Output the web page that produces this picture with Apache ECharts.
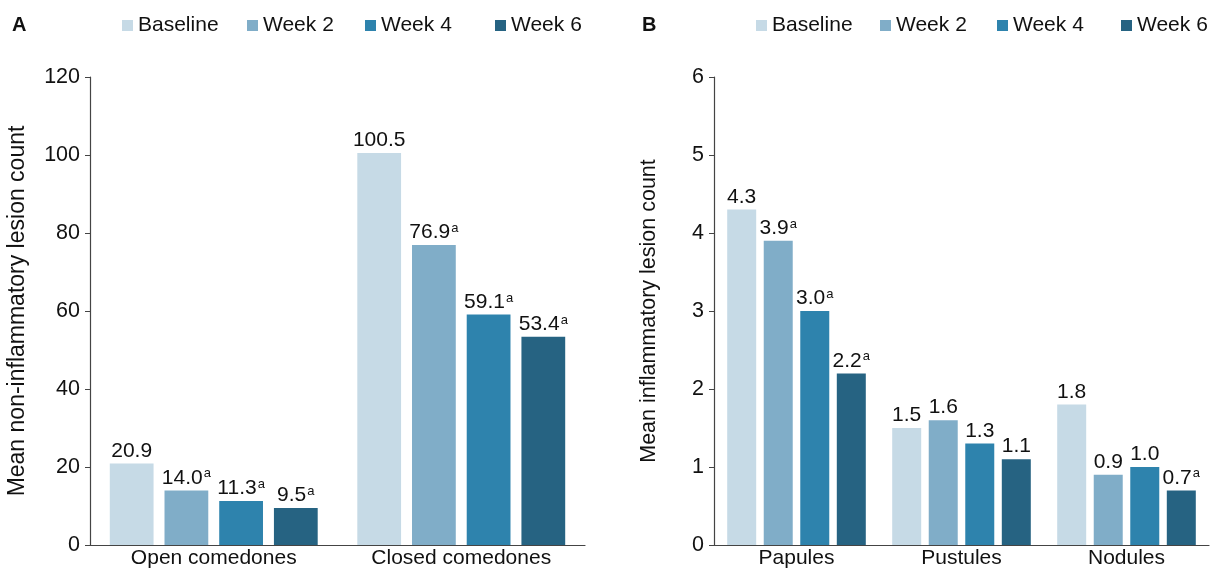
<!DOCTYPE html>
<html>
<head>
<meta charset="utf-8">
<script src="https://cdn.jsdelivr.net/npm/echarts@6/dist/echarts.min.js"></script>
<style>html,body{margin:0;padding:0;background:#fff}#c{width:1210px;height:569px}</style>
</head>
<body>
<div id="c"></div>
<script>
// ---- Data ----
const seriesNames = ['Baseline', 'Week 2', 'Week 4', 'Week 6'];
const colors = ['#c6dae6', '#80adc8', '#2e83ad', '#266382'];

// Panel A: non-inflammatory lesions
const catsA = ['Open comedones', 'Closed comedones'];
const baselineA = [20.9, 100.5];
const week2A = [14.0, 76.9];
const week4A = [11.3, 59.1];
const week6A = [9.5, 53.4];
const sigA = [[0, 0], [1, 1], [1, 1], [1, 1]];
const yTicksA = { min: 0, max: 120, interval: 20 };

// Panel B: inflammatory lesions
const catsB = ['Papules', 'Pustules', 'Nodules'];
const baselineB = [4.3, 1.5, 1.8];
const week2B = [3.9, 1.6, 0.9];
const week4B = [3.0, 1.3, 1.0];
const week6B = [2.2, 1.1, 0.7];
const sigB = [[0, 0, 0], [1, 0, 0], [1, 0, 0], [1, 0, 1]];
const yTicksB = { min: 0, max: 6, interval: 1 };

const FONT = "'Liberation Sans', Arial, sans-serif";

function mkSeries(data, sig, idx, axisIdx) {
  return {
    name: seriesNames[idx],
    type: 'bar',
    xAxisIndex: axisIdx, yAxisIndex: axisIdx,
    data: data,
    barGap: axisIdx === 0 ? '25%' : '26%',
    barCategoryGap: '16%',
    itemStyle: { color: colors[idx] },
    label: {
      show: true, position: 'top', distance: 2,
      fontFamily: FONT, fontSize: 21, color: '#111',
      formatter: p => {
        const v = p.value.toFixed(1);
        return sig[idx][p.dataIndex] ? '{v|' + v + '}{s|a}' : '{v|' + v + '}';
      },
      rich: {
        v: { fontFamily: FONT, fontSize: 21, color: '#111', lineHeight: 21 },
        s: { fontFamily: FONT, fontSize: 13, color: '#111', verticalAlign: 'top', lineHeight: 21, padding: [0, 0, 0, 1] }
      }
    }
  };
}

const dataA = [baselineA, week2A, week4A, week6A];
const dataB = [baselineB, week2B, week4B, week6B];
const series = [];
dataA.forEach((d, i) => series.push(mkSeries(d, sigA, i, 0)));
dataB.forEach((d, i) => series.push(mkSeries(d, sigB, i, 1)));

const legendPos = [
  [122, 247, 365, 495],
  [756, 880, 997, 1121]
];
const legends = [];
legendPos.forEach(row => row.forEach((x, i) => legends.push({
  data: [seriesNames[i]], left: x, top: 15, padding: 0, icon: 'rect',
  itemWidth: 11, itemHeight: 11, itemGap: 6, selectedMode: false,
  textStyle: { fontFamily: FONT, fontSize: 21, color: '#111' }
})));

function yAxis(t, name, gap, nameSize, idx) {
  return {
    type: 'value', gridIndex: idx, min: t.min, max: t.max, interval: t.interval,
    name: name, nameLocation: 'middle', nameGap: gap,
    nameTextStyle: { fontFamily: FONT, fontSize: nameSize, color: '#111' },
    axisLine: { show: true, lineStyle: { color: '#444', width: 1.2 } },
    axisTick: { show: true, length: 5, lineStyle: { color: '#444' } },
    axisLabel: { fontFamily: FONT, fontSize: 21.5, color: '#111', margin: 10 },
    splitLine: { show: false }
  };
}
function xAxis(cats, idx) {
  return {
    type: 'category', gridIndex: idx, data: cats,
    axisLine: { lineStyle: { color: '#444', width: 1.2 } },
    axisTick: { show: false },
    axisLabel: { fontFamily: FONT, fontSize: 21, color: '#111', margin: 3 }
  };
}

const chart = echarts.init(document.getElementById('c'), null, { renderer: 'canvas' });
chart.setOption({
  animation: false,
  backgroundColor: '#fff',
  legend: legends,
  graphic: [
    { type: 'text', left: 12, top: 15, style: { text: 'A', fontFamily: FONT, fontSize: 20, fontWeight: 'bold', fill: '#111' } },
    { type: 'text', left: 642, top: 15, style: { text: 'B', fontFamily: FONT, fontSize: 20, fontWeight: 'bold', fill: '#111' } }
  ],
  grid: [
    { left: 90, right: 625, top: 77, bottom: 24 },
    { left: 714, right: 1, top: 77, bottom: 23 }
  ],
  xAxis: [xAxis(catsA, 0), xAxis(catsB, 1)],
  yAxis: [
    yAxis(yTicksA, 'Mean non-inflammatory lesion count', 61, 23, 0),
    yAxis(yTicksB, 'Mean inflammatory lesion count', 54, 21.5, 1)
  ],
  series: series
});
</script>
</body>
</html>
